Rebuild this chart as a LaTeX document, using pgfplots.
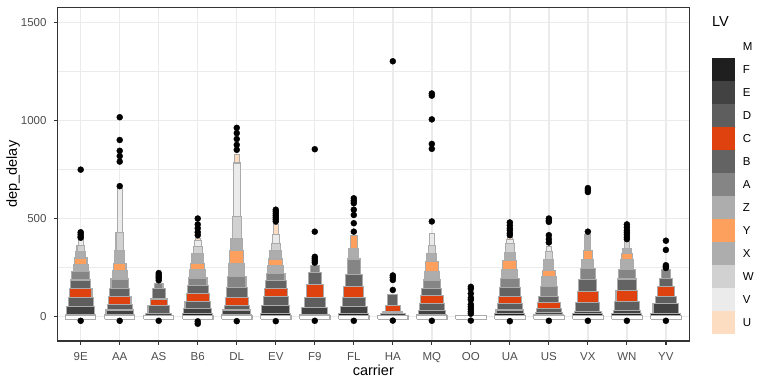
\documentclass[border=0pt]{standalone}
\usepackage{pgfplots}
\pgfplotsset{compat=1.18}
\usepackage{fontspec}
\setmainfont{Liberation Sans}
\definecolor{lv1}{HTML}{1F1F1F}
\definecolor{lv2}{HTML}{424242}
\definecolor{lv3}{HTML}{5E5E5E}
\definecolor{lv4}{HTML}{E0420F}
\definecolor{lv5}{HTML}{636363}
\definecolor{lv6}{HTML}{858585}
\definecolor{lv7}{HTML}{ADADAD}
\definecolor{lv8}{HTML}{FDA05E}
\definecolor{lv9}{HTML}{ADADAD}
\definecolor{lv10}{HTML}{D1D1D1}
\definecolor{lv11}{HTML}{EBEBEB}
\definecolor{lv12}{HTML}{FDDDC1}
\definecolor{lvline}{HTML}{ABABAB}
\definecolor{gridc}{HTML}{EBEBEB}
\definecolor{grey20}{HTML}{333333}
\definecolor{grey30}{HTML}{4D4D4D}
% box: x index, k, level i, upper letter value
\newcommand\lv[4]{%
  \pgfmathsetmacro\hw{0.385*(#2+2-#3)/(#2+1)}%
  \pgfmathsetmacro\xa{#1-\hw}%
  \pgfmathsetmacro\xb{#1+\hw}%
  \edef\tmp{\noexpand\addplot[fill=lv#3, draw=lvline, line width=1.1pt] coordinates {(\xa,-10) (\xb,-10) (\xb,#4) (\xa,#4) (\xa,-10)};}%
  \tmp}
% median/base box
\newcommand\sk[1]{%
  \pgfmathsetmacro\xa{#1-0.39}%
  \pgfmathsetmacro\xb{#1+0.39}%
  \edef\tmp{\noexpand\addplot[fill=white, draw=lvline, line width=1.1pt] coordinates {(\xa,-13) (\xb,-13) (\xb,4) (\xa,4) (\xa,-13)};}%
  \tmp}
\begin{document}
\begin{tikzpicture}
\useasboundingbox (0,0) rectangle (768pt,384pt);
\begin{axis}[
  at={(57.3pt,43pt)}, anchor=south west,
  width=632pt, height=333.7pt, scale only axis,
  xmin=0.4, xmax=16.6, ymin=-124, ymax=1576,
  xtick={1,...,16},
  xticklabels={9E,AA,AS,B6,DL,EV,F9,FL,HA,MQ,OO,UA,US,VX,WN,YV},
  ytick={0,500,1000,1500}, yticklabels={0,500,1000,1500},
  minor ytick={250,750,1250},
  grid=both,
  major grid style={draw=gridc, line width=1.4pt},
  minor grid style={draw=gridc, line width=0.7pt},
  axis line style={draw=grey20, line width=1.2pt},
  tick align=outside, tick pos=left,
  major tick length=3.7pt, minor tick length=0pt,
  major tick style={draw=grey20, line width=1.2pt},
  xticklabel style={anchor=base, yshift=-16pt, inner sep=0pt, text=grey30, font=\fontsize{11.5}{13}\selectfont},
  yticklabel style={anchor=east, xshift=-6.9pt, inner sep=0pt, text=grey30, font=\fontsize{11.5}{13}\selectfont},
  xlabel={carrier}, ylabel={dep\_delay},
  xlabel style={at={(axis description cs:0.5,-0.1019)}, anchor=base, inner sep=0pt, font=\fontsize{14.5}{17}\selectfont},
  ylabel style={at={(axis description cs:-0.0638,0.5)}, anchor=base, inner sep=0pt, font=\fontsize{14.5}{17}\selectfont},
]
% outliers
\addplot[only marks, mark=*, mark size=3pt, black] coordinates {
(1,749) (1,430) (1,420) (1,410) (1,402) (1,-21)
(2,1016) (2,900) (2,845) (2,818) (2,790) (2,665) (2,-21)
(3,222) (3,212) (3,203) (3,195) (3,185) (3,-21)
(4,500) (4,470) (4,450) (4,430) (4,415) (4,-24) (4,-36)
(5,962) (5,935) (5,905) (5,875) (5,850) (5,-23)
(6,545) (6,535) (6,525) (6,515) (6,505) (6,495) (6,485) (6,-23)
(7,853) (7,433) (7,305) (7,295) (7,285) (7,275) (7,-21)
(8,603) (8,590) (8,578) (8,545) (8,518) (8,476) (8,433) (8,-21)
(9,1301) (9,210) (9,200) (9,187) (9,136) (9,-20)
(10,1137) (10,1126) (10,1005) (10,880) (10,855) (10,485) (10,-21)
(11,152) (11,142) (11,118) (11,96) (11,86) (11,62) (11,50) (11,38) (11,25) (11,15) (11,-20)
(12,480) (12,465) (12,450) (12,440) (12,425) (12,415) (12,-23)
(13,500) (13,490) (13,483) (13,415) (13,395) (13,378) (13,-21)
(14,655) (14,645) (14,635) (14,433) (14,-21)
(15,470) (15,455) (15,440) (15,430) (15,418) (15,405) (15,395) (15,-21)
(16,387) (16,340) (16,262) (16,255) (16,248) (16,-21)
};
% 9E
\lv{1}{11}{11}{391}\lv{1}{11}{10}{361}\lv{1}{11}{9}{334}\lv{1}{11}{8}{299}\lv{1}{11}{7}{267}\lv{1}{11}{6}{228}
\lv{1}{11}{5}{187}\lv{1}{11}{4}{143}\lv{1}{11}{3}{97}\lv{1}{11}{2}{51}\lv{1}{11}{1}{12}
% AA
\lv{2}{11}{11}{651}\lv{2}{11}{10}{429}\lv{2}{11}{9}{337}\lv{2}{11}{8}{272}\lv{2}{11}{7}{235}\lv{2}{11}{6}{192}
\lv{2}{11}{5}{145}\lv{2}{11}{4}{102}\lv{2}{11}{3}{60}\lv{2}{11}{2}{34}\lv{2}{11}{1}{10}
% AS
\lv{3}{6}{6}{170}\lv{3}{6}{5}{145}\lv{3}{6}{4}{90}\lv{3}{6}{3}{55}\lv{3}{6}{2}{15}\lv{3}{6}{1}{8}
% B6
\lv{4}{12}{12}{400}\lv{4}{12}{11}{386}\lv{4}{12}{10}{357}\lv{4}{12}{9}{320}\lv{4}{12}{8}{272}\lv{4}{12}{7}{238}
\lv{4}{12}{6}{197}\lv{4}{12}{5}{157}\lv{4}{12}{4}{116}\lv{4}{12}{3}{78}\lv{4}{12}{2}{43}\lv{4}{12}{1}{17}
% DL
\lv{5}{12}{12}{825}\lv{5}{12}{11}{783}\lv{5}{12}{10}{510}\lv{5}{12}{9}{400}\lv{5}{12}{8}{337}\lv{5}{12}{7}{272}
\lv{5}{12}{6}{204}\lv{5}{12}{5}{150}\lv{5}{12}{4}{99}\lv{5}{12}{3}{55}\lv{5}{12}{2}{34}\lv{5}{12}{1}{12}
% EV
\lv{6}{12}{12}{471}\lv{6}{12}{11}{417}\lv{6}{12}{10}{374}\lv{6}{12}{9}{337}\lv{6}{12}{8}{294}\lv{6}{12}{7}{260}
\lv{6}{12}{6}{221}\lv{6}{12}{5}{182}\lv{6}{12}{4}{145}\lv{6}{12}{3}{102}\lv{6}{12}{2}{55}\lv{6}{12}{1}{16}
% F9
\lv{7}{6}{6}{259}\lv{7}{6}{5}{224}\lv{7}{6}{4}{162}\lv{7}{6}{3}{99}\lv{7}{6}{2}{46}\lv{7}{6}{1}{10}
% FL
\lv{8}{8}{8}{412}\lv{8}{8}{7}{349}\lv{8}{8}{6}{294}\lv{8}{8}{5}{213}\lv{8}{8}{4}{153}\lv{8}{8}{3}{99}
\lv{8}{8}{2}{51}\lv{8}{8}{1}{17}
% HA
\lv{9}{5}{5}{114}\lv{9}{5}{4}{55}\lv{9}{5}{3}{24}\lv{9}{5}{2}{14}\lv{9}{5}{1}{8}
% MQ
\lv{10}{11}{11}{422}\lv{10}{11}{10}{362}\lv{10}{11}{9}{323}\lv{10}{11}{8}{281}\lv{10}{11}{7}{230}\lv{10}{11}{6}{187}
\lv{10}{11}{5}{145}\lv{10}{11}{4}{106}\lv{10}{11}{3}{68}\lv{10}{11}{2}{31}\lv{10}{11}{1}{10}
% UA
\lv{12}{12}{12}{405}\lv{12}{12}{11}{395}\lv{12}{12}{10}{374}\lv{12}{12}{9}{327}\lv{12}{12}{8}{284}\lv{12}{12}{7}{242}
\lv{12}{12}{6}{196}\lv{12}{12}{5}{150}\lv{12}{12}{4}{102}\lv{12}{12}{3}{65}\lv{12}{12}{2}{34}\lv{12}{12}{1}{17}
% US
\lv{13}{11}{11}{357}\lv{13}{11}{10}{332}\lv{13}{11}{9}{289}\lv{13}{11}{8}{235}\lv{13}{11}{7}{204}\lv{13}{11}{6}{153}
\lv{13}{11}{5}{102}\lv{13}{11}{4}{71}\lv{13}{11}{3}{43}\lv{13}{11}{2}{20}\lv{13}{11}{1}{10}
% VX
\lv{14}{9}{9}{417}\lv{14}{9}{8}{337}\lv{14}{9}{7}{293}\lv{14}{9}{6}{247}\lv{14}{9}{5}{190}\lv{14}{9}{4}{128}
\lv{14}{9}{3}{71}\lv{14}{9}{2}{26}\lv{14}{9}{1}{17}
% WN
\lv{15}{10}{10}{383}\lv{15}{10}{9}{349}\lv{15}{10}{8}{320}\lv{15}{10}{7}{293}\lv{15}{10}{6}{242}\lv{15}{10}{5}{192}
\lv{15}{10}{4}{131}\lv{15}{10}{3}{77}\lv{15}{10}{2}{31}\lv{15}{10}{1}{17}
% YV
\lv{16}{6}{6}{238}\lv{16}{6}{5}{196}\lv{16}{6}{4}{153}\lv{16}{6}{3}{102}\lv{16}{6}{2}{65}\lv{16}{6}{1}{17}
% median boxes
\sk{1}\sk{2}\sk{3}\sk{4}\sk{5}\sk{6}\sk{7}\sk{8}\sk{9}\sk{10}\sk{11}\sk{12}\sk{13}\sk{14}\sk{15}\sk{16}
\end{axis}
% legend
\begin{scope}[x=1pt,y=1pt]
\node[anchor=base west, inner sep=0pt, font=\fontsize{14.5}{17}\selectfont] at (712,357.3) {LV};
\foreach \j/\c/\t in {0/white/M,1/lv1/F,2/lv2/E,3/lv3/D,4/lv4/C,5/lv5/B,6/lv6/A,7/lv7/Z,8/lv8/Y,9/lv9/X,10/lv10/W,11/lv11/V,12/lv12/U}{
  \fill[\c] (712,{349-23*\j}) rectangle (735,{326-23*\j});
  \node[anchor=west, inner sep=0pt, font=\fontsize{11.5}{13}\selectfont] at (742.7,{337.5-23*\j}) {\t};
}
\end{scope}
\end{tikzpicture}
\end{document}
